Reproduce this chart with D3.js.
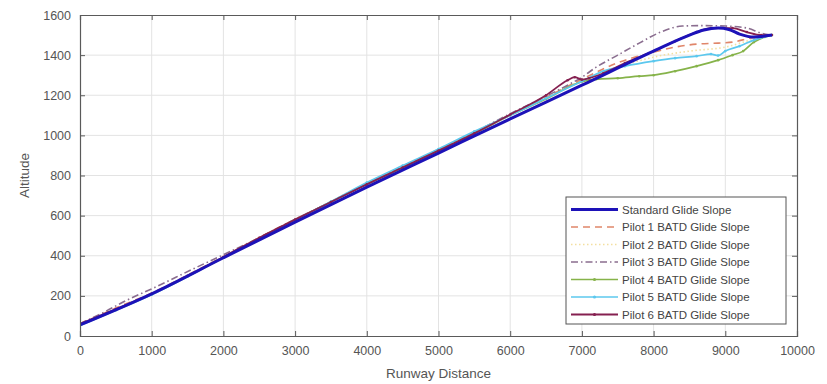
<!DOCTYPE html>
<html><head><meta charset="utf-8">
<script src="https://cdn.jsdelivr.net/npm/d3@7"></script>
<style>body{margin:0;background:#fff}svg{font-family:"Liberation Sans",Arial,sans-serif}</style>
</head><body><svg id="c" width="827" height="384"></svg>
<script>
const xTicks = [0,1000,2000,3000,4000,5000,6000,7000,8000,9000,10000];
const yTicks = [0,200,400,600,800,1000,1200,1400,1600];
const seriesNames = ["Standard Glide Slope","Pilot 1 BATD Glide Slope","Pilot 2 BATD Glide Slope","Pilot 3 BATD Glide Slope","Pilot 4 BATD Glide Slope","Pilot 5 BATD Glide Slope","Pilot 6 BATD Glide Slope"];
const standard = [[0,55],[1000,210],[2000,390],[3000,568],[4000,742],[5000,912],[6000,1082],[7000,1250],[8000,1420],[8500,1500],[8700,1525],[8900,1535],[9050,1528],[9200,1505],[9400,1490],[9650,1500]];
const pilot1 = [[0,62],[250,100],[500,140],[1000,214],[1500,304],[2000,396],[2500,490],[3000,582],[3500,668],[4000,758],[4500,842],[5000,926],[5500,1012],[6000,1104],[6500,1190],[7000,1280],[7500,1362],[8000,1415],[8300,1440],[8600,1455],[8900,1460],[9100,1465],[9350,1485],[9650,1500]];
const pilot2 = [[0,58],[500,136],[1000,212],[1500,302],[2000,394],[2500,490],[3000,580],[3500,672],[4000,762],[4500,845],[5000,928],[5500,1015],[6000,1102],[6500,1188],[7000,1275],[7500,1340],[8000,1390],[8500,1420],[9000,1440],[9400,1480],[9650,1500]];
const pilot3 = [[0,62],[300,112],[650,178],[1000,235],[1600,338],[2000,405],[2500,490],[3000,582],[3500,668],[4000,762],[4500,846],[5000,930],[5500,1016],[6000,1108],[6500,1195],[6800,1250],[7000,1290],[7200,1340],[7500,1400],[7800,1460],[8100,1515],[8400,1545],[8700,1547],[9000,1545],[9300,1535],[9500,1510],[9650,1500]];
const pilot4 = [[0,55],[500,130],[1000,208],[1500,298],[2000,390],[2500,486],[3000,578],[3500,668],[4000,756],[4500,838],[5000,922],[5500,1008],[6000,1100],[6500,1182],[7000,1268],[7200,1280],[7500,1285],[7800,1295],[8000,1300],[8300,1320],[8600,1345],[8900,1375],[9100,1400],[9250,1420],[9400,1465],[9550,1490],[9650,1500]];
const pilot5 = [[0,52],[500,128],[1000,206],[1500,296],[2000,392],[2500,486],[3000,578],[3500,670],[4000,765],[4500,850],[5000,932],[5500,1020],[6000,1100],[6500,1185],[7000,1270],[7300,1320],[7600,1345],[8000,1370],[8300,1385],[8600,1395],[8800,1405],[8900,1398],[9000,1420],[9200,1445],[9400,1475],[9650,1500]];
const pilot6 = [[0,60],[500,134],[1000,210],[1500,300],[2000,394],[2500,490],[3000,580],[3500,668],[4000,756],[4500,840],[5000,924],[5500,1010],[6000,1104],[6500,1200],[6800,1275],[6900,1290],[7000,1278],[7100,1285],[7300,1310],[7600,1360],[8000,1420],[8300,1470],[8600,1515],[8800,1535],[9100,1535],[9300,1515],[9500,1500],[9650,1500]];

const seriesData = [standard,pilot1,pilot2,pilot3,pilot4,pilot5,pilot6];
const styles = [
  {color:"#1d12b8",w:3,dash:null,marker:false},
  {color:"#e0866a",w:1.6,dash:"7,5",marker:false},
  {color:"#f3dfa0",w:1.6,dash:"1.5,2.5",marker:false},
  {color:"#8a6d8f",w:1.6,dash:"7,3,1.5,3",marker:false},
  {color:"#86b34a",w:1.7,dash:null,marker:true},
  {color:"#5cc8ee",w:1.7,dash:null,marker:true},
  {color:"#852050",w:1.8,dash:null,marker:true}
];

const svg = d3.select("#c");
const L=80,R=797,T=15,B=336;
const x = d3.scaleLinear().domain([0,10000]).range([L,R]);
const y = d3.scaleLinear().domain([0,1600]).range([B,T]);
const axisCol="#5a5a5a", textCol="#555";

// grid
svg.append("g").selectAll("line.gx").data(xTicks.slice(1,-1)).join("line")
  .attr("x1",d=>x(d)).attr("x2",d=>x(d)).attr("y1",T).attr("y2",B)
  .attr("stroke","#e3e3e3").attr("stroke-width",1);
svg.append("g").selectAll("line.gy").data(yTicks.slice(1,-1)).join("line")
  .attr("y1",d=>y(d)).attr("y2",d=>y(d)).attr("x1",L).attr("x2",R)
  .attr("stroke","#e3e3e3").attr("stroke-width",1);

// lines
svg.append("clipPath").attr("id","cp").append("rect").attr("x",L).attr("y",T).attr("width",R-L).attr("height",B-T);
const line = d3.line().x(d=>x(d[0])).y(d=>y(d[1])).curve(d3.curveMonotoneX);
const gl = svg.append("g").attr("clip-path","url(#cp)");
[2,1,3,4,5,6,0].forEach(i=>{
  const s=styles[i];
  gl.append("path").datum(seriesData[i]).attr("d",line).attr("fill","none")
    .attr("stroke",s.color).attr("stroke-width",s.w).attr("stroke-dasharray",s.dash)
    .attr("stroke-linejoin","round");
  if(s.marker){
    gl.append("g").selectAll("circle").data(seriesData[i]).join("circle")
      .attr("cx",d=>x(d[0])).attr("cy",d=>y(d[1])).attr("r",1.3).attr("fill",s.color);
  }
});

// axes
const tickLen=5;
const gx = svg.append("g").attr("transform",`translate(0,${B})`)
  .call(d3.axisBottom(x).tickValues(xTicks).tickSize(-tickLen).tickPadding(10).tickFormat(d3.format("d")));
const gxt = svg.append("g").attr("transform",`translate(0,${T})`)
  .call(d3.axisTop(x).tickValues(xTicks).tickSize(-tickLen).tickFormat(""));
const gy = svg.append("g").attr("transform",`translate(${L},0)`)
  .call(d3.axisLeft(y).tickValues(yTicks).tickSize(-tickLen).tickPadding(9).tickFormat(d3.format("d")));
const gyr = svg.append("g").attr("transform",`translate(${R},0)`)
  .call(d3.axisRight(y).tickValues(yTicks).tickSize(-tickLen).tickFormat(""));
[gx,gxt,gy,gyr].forEach(g=>{
  g.select(".domain").attr("stroke",axisCol).attr("stroke-width",1.2);
  g.selectAll(".tick line").attr("stroke",axisCol);
  g.selectAll(".tick text").attr("fill",textCol).attr("font-size",12.5).attr("font-family","Liberation Sans, Arial, sans-serif");
});

svg.append("text").attr("x",(L+R)/2).attr("y",378).attr("text-anchor","middle")
  .attr("fill",textCol).attr("font-size",13.5).text("Runway Distance");
svg.append("text").attr("transform",`translate(29,${(T+B)/2}) rotate(-90)`).attr("text-anchor","middle")
  .attr("fill",textCol).attr("font-size",13.5).text("Altitude");

// legend
const lg = svg.append("g");
lg.append("rect").attr("x",566).attr("y",197).attr("width",220).attr("height",127)
  .attr("fill","#fff").attr("stroke","#555").attr("stroke-width",1);
seriesNames.forEach((n,i)=>{
  const yy=209.5+i*17.5, s=styles[i];
  lg.append("line").attr("x1",571).attr("x2",618).attr("y1",yy).attr("y2",yy)
    .attr("stroke",s.color).attr("stroke-width",s.w).attr("stroke-dasharray",s.dash);
  if(s.marker) lg.append("circle").attr("cx",594.5).attr("cy",yy).attr("r",1.6).attr("fill",s.color);
  lg.append("text").attr("x",622).attr("y",yy+4).attr("fill","#444").attr("font-size",11.5).text(n);
});
</script></body></html>
